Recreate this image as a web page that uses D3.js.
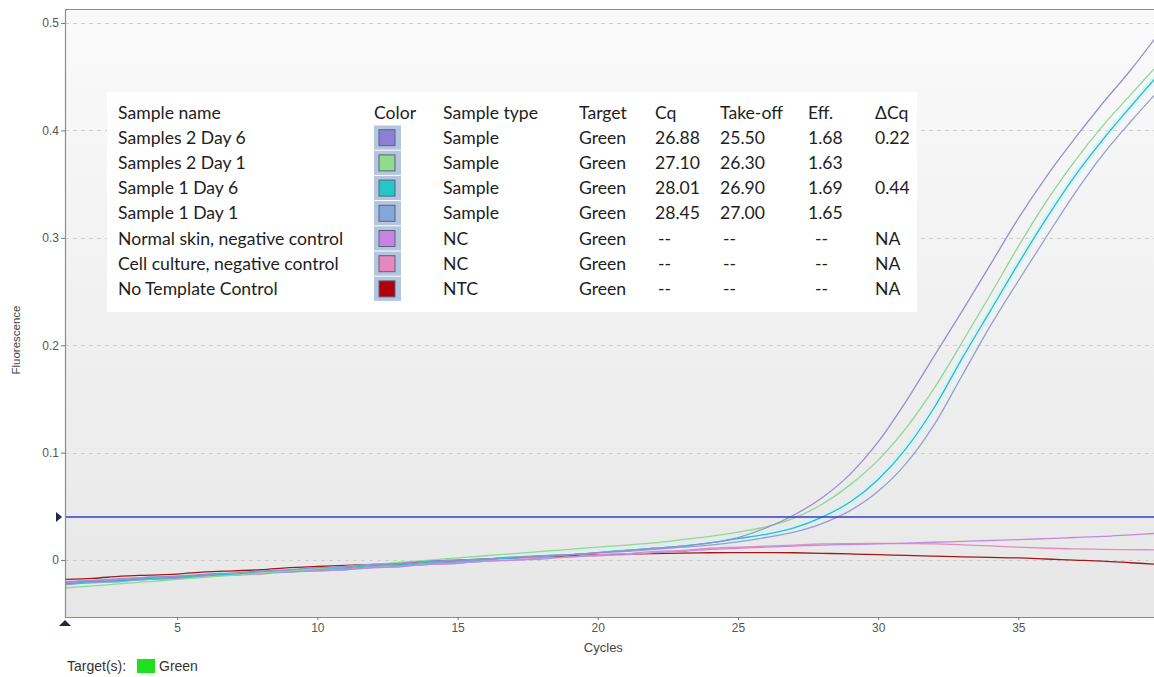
<!DOCTYPE html>
<html>
<head>
<meta charset="utf-8">
<script src="https://cdn.jsdelivr.net/npm/d3@7"></script>
<style>
  html, body { margin: 0; padding: 0; background: #ffffff; }
  svg { display: block; }
</style>
</head>
<body>
<svg id="chart" width="1154" height="677"></svg>
<script>
// Amplification curves: fluorescence per cycle (cycles 1..40)
const cycles = d3.range(1, 41);

const s2d6 = [-0.021,-0.019,-0.018,-0.016,-0.015,-0.013,-0.012,-0.010,-0.009,-0.007,
              -0.006,-0.004,-0.003,-0.001, 0.000, 0.001, 0.003, 0.004, 0.005, 0.007,
               0.009, 0.011, 0.013, 0.016, 0.021, 0.030, 0.042, 0.058, 0.080, 0.110,
               0.148, 0.190, 0.232, 0.275, 0.318, 0.357, 0.392, 0.425, 0.456, 0.490];
const s2d1 = [-0.026,-0.024,-0.022,-0.020,-0.018,-0.016,-0.014,-0.012,-0.010,-0.008,
              -0.006,-0.004,-0.002, 0.000, 0.002, 0.004, 0.006, 0.008, 0.010, 0.012,
               0.014, 0.016, 0.019, 0.022, 0.026, 0.031, 0.039, 0.052, 0.070, 0.093,
               0.123, 0.160, 0.203, 0.247, 0.292, 0.334, 0.371, 0.404, 0.433, 0.462];
const s1d6 = [-0.022,-0.020,-0.019,-0.017,-0.016,-0.014,-0.013,-0.011,-0.010,-0.008,
              -0.007,-0.005,-0.004,-0.002,-0.001, 0.001, 0.002, 0.004, 0.005, 0.007,
               0.009, 0.011, 0.013, 0.016, 0.020, 0.024, 0.030, 0.040, 0.054, 0.075,
               0.104, 0.142, 0.188, 0.232, 0.276, 0.318, 0.357, 0.391, 0.422, 0.452];
const s1d1 = [-0.023,-0.021,-0.020,-0.018,-0.017,-0.015,-0.014,-0.012,-0.011,-0.009,
              -0.008,-0.006,-0.005,-0.003,-0.002, 0.000, 0.002, 0.003, 0.005, 0.0065,
               0.008, 0.010, 0.012, 0.014, 0.017, 0.021, 0.026, 0.034, 0.046, 0.064,
               0.090, 0.126, 0.172, 0.218, 0.260, 0.301, 0.341, 0.377, 0.408, 0.437];
const normalSkin = [-0.020,-0.019,-0.017,-0.016,-0.015,-0.014,-0.013,-0.012,-0.011,-0.010,
                    -0.009,-0.007,-0.006,-0.004,-0.003,-0.001, 0.000, 0.001, 0.003, 0.004,
                     0.005, 0.007, 0.008, 0.010, 0.011, 0.012, 0.013, 0.014, 0.0145, 0.015,
                     0.0158, 0.0166, 0.0174, 0.0182, 0.019, 0.020, 0.021, 0.022, 0.0235, 0.025];
const cellCulture = [-0.022,-0.021,-0.019,-0.018,-0.017,-0.015,-0.014,-0.013,-0.011,-0.010,
                     -0.009,-0.007,-0.006,-0.004,-0.003,-0.001, 0.000, 0.002, 0.003, 0.005,
                      0.006, 0.008, 0.009, 0.011, 0.012, 0.013, 0.014, 0.015, 0.0153, 0.0155,
                      0.0153, 0.015, 0.0142, 0.0132, 0.012, 0.011, 0.0104, 0.010, 0.0097, 0.0095];
const ntc = [-0.018,-0.017,-0.015,-0.014,-0.013,-0.011,-0.010,-0.009,-0.007,-0.006,
             -0.005,-0.004,-0.003,-0.001, 0.000, 0.001, 0.002, 0.003, 0.004, 0.005,
              0.0055, 0.006, 0.0065, 0.0068, 0.007, 0.007, 0.0068, 0.0063, 0.0057, 0.005,
              0.0043, 0.0036, 0.003, 0.0025, 0.002, 0.001, 0.000,-0.001,-0.0025,-0.004];

// Legend / results table
const sampleNames = ["Samples 2 Day 6", "Samples 2 Day 1", "Sample 1 Day 6", "Sample 1 Day 1",
                     "Normal skin, negative control", "Cell culture, negative control", "No Template Control"];
const sampleTypes = ["Sample", "Sample", "Sample", "Sample", "NC", "NC", "NTC"];
const targets = ["Green", "Green", "Green", "Green", "Green", "Green", "Green"];
const cqValues = ["26.88", "27.10", "28.01", "28.45", "--", "--", "--"];
const takeOffValues = ["25.50", "26.30", "26.90", "27.00", "--", "--", "--"];
const effValues = ["1.68", "1.63", "1.69", "1.65", "--", "--", "--"];
const deltaCq = ["0.22", "", "0.44", "", "NA", "NA", "NA"];
const swatchColors = ["#8b7fd8", "#8fdc8c", "#25c6c8", "#84a7da", "#c883e2", "#e887bf", "#b00010"];
const lineColors   = ["#998fd0", "#8cd994", "#2bbcc4", "#939fd6", "#c28ae0", "#e48cc0", "#a01818"];
const headers = ["Sample name", "Color", "Sample type", "Target", "Cq", "Take-off", "Eff.", "\u0394Cq"];

const seriesValues = [s2d6, s2d1, s1d6, s1d1, normalSkin, cellCulture, ntc];
const yTicks = [0, 0.1, 0.2, 0.3, 0.4, 0.5];
const xTicks = [5, 10, 15, 20, 25, 30, 35];
const threshold = 0.04;

const svg = d3.select("#chart");
const plot = { left: 65, top: 9, right: 1154, bottom: 617 };
const axisFont = "Liberation Sans, Arial, sans-serif";

const x = d3.scaleLinear().domain([1, 40]).range([plot.left, plot.left + 39 * 28.04]);
const y = d3.scaleLinear().domain([-0.053, 0.513]).range([plot.bottom, plot.top]);

const defs = svg.append("defs");
const grad = defs.append("linearGradient").attr("id", "bg").attr("x1", 0).attr("x2", 0).attr("y1", 0).attr("y2", 1);
grad.append("stop").attr("offset", "0%").attr("stop-color", "#fafafa");
grad.append("stop").attr("offset", "100%").attr("stop-color", "#e7e7e7");
defs.append("clipPath").attr("id", "clip").append("rect")
  .attr("x", plot.left).attr("y", plot.top)
  .attr("width", plot.right - plot.left).attr("height", plot.bottom - plot.top);

// plot background
svg.append("rect")
  .attr("x", plot.left).attr("y", plot.top)
  .attr("width", plot.right - plot.left).attr("height", plot.bottom - plot.top)
  .attr("fill", "url(#bg)");

// horizontal dashed grid
svg.append("g").selectAll("line").data(yTicks).join("line")
  .attr("x1", plot.left).attr("x2", plot.right)
  .attr("y1", d => Math.round(y(d)) + 0.5).attr("y2", d => Math.round(y(d)) + 0.5)
  .attr("stroke", "#cfcfcf").attr("stroke-width", 1).attr("stroke-dasharray", "4,4");

// curves
const line = d3.line()
  .x((d, i) => x(cycles[i]))
  .y(d => y(d))
  .curve(d3.curveMonotoneX);

const curves = svg.append("g").attr("clip-path", "url(#clip)");
// soft halo under the selected curve
curves.append("path").datum(s1d6)
  .attr("d", line).attr("fill", "none")
  .attr("stroke", "#d2f3f6").attr("stroke-width", 6).attr("opacity", 0.7);
curves.selectAll("path.curve").data(seriesValues.slice().reverse()).join("path")
  .attr("class", "curve")
  .attr("d", line)
  .attr("fill", "none")
  .attr("stroke", (d, i) => lineColors[seriesValues.length - 1 - i])
  .attr("stroke-width", 1.3);

// threshold line
svg.append("line")
  .attr("x1", plot.left).attr("x2", plot.right)
  .attr("y1", y(threshold)).attr("y2", y(threshold))
  .attr("stroke", "#3a3acb").attr("stroke-width", 1.5);
svg.append("path")
  .attr("d", `M56,${y(threshold) - 5} L62,${y(threshold)} L56,${y(threshold) + 5} Z`)
  .attr("fill", "#1d2850");

// plot border (left, top, bottom)
svg.append("path")
  .attr("d", `M${plot.right},${plot.top + 0.5} H${plot.left + 0.5} V${plot.bottom + 0.5} H${plot.right}`)
  .attr("fill", "none").attr("stroke", "#8c8c8c").attr("stroke-width", 1.2);

// y axis
const yAxis = d3.axisLeft(y).tickValues(yTicks).tickSize(4).tickPadding(2)
  .tickFormat(d => d === 0 ? "0" : d3.format(".1f")(d));
const yg = svg.append("g").attr("transform", `translate(${plot.left},0)`).call(yAxis);
yg.select(".domain").remove();
yg.selectAll(".tick line").attr("stroke", "#777");
yg.selectAll(".tick text").attr("fill", "#555").attr("font-family", axisFont).attr("font-size", 12);

// x axis
const xAxis = d3.axisBottom(x).tickValues(xTicks).tickSize(3).tickPadding(3);
const xg = svg.append("g").attr("transform", `translate(0,${plot.bottom})`).call(xAxis);
xg.select(".domain").remove();
xg.selectAll(".tick line").attr("stroke", "#777");
xg.selectAll(".tick text").attr("fill", "#555").attr("font-family", axisFont).attr("font-size", 12);

// origin marker
svg.append("path")
  .attr("d", `M${plot.left - 6},${plot.bottom + 9} L${plot.left},${plot.bottom + 3} L${plot.left + 6},${plot.bottom + 9} Z`)
  .attr("fill", "#1d2850");

// axis titles
svg.append("text").attr("x", x(20.2)).attr("y", 652).attr("text-anchor", "middle")
  .attr("font-family", axisFont).attr("font-size", 13).attr("fill", "#444")
  .text("Cycles");
svg.append("text").attr("transform", "translate(20,340) rotate(-90)").attr("text-anchor", "middle")
  .attr("font-family", axisFont).attr("font-size", 11.5).attr("fill", "#444")
  .text("Fluorescence");

// target legend
svg.append("text").attr("x", 67).attr("y", 671)
  .attr("font-family", axisFont).attr("font-size", 14).attr("fill", "#333")
  .text("Target(s):");
svg.append("rect").attr("x", 137).attr("y", 659).attr("width", 18).attr("height", 14).attr("fill", "#1fe01f");
svg.append("text").attr("x", 159).attr("y", 671)
  .attr("font-family", axisFont).attr("font-size", 14).attr("fill", "#333")
  .text("Green");

// results table
const table = svg.append("g").attr("font-family", "Lato, 'Open Sans', sans-serif").attr("font-size", 17.6).attr("fill", "#1e1e1e");
table.append("rect").attr("x", 107).attr("y", 92).attr("width", 810).attr("height", 220).attr("fill", "#ffffff");

const colX = [118, 374, 443, 579, 655, 720, 808, 875];
const headerBase = 118.5, rowStep = 25.2;
table.selectAll("text.hdr").data(headers).join("text").attr("class", "hdr")
  .attr("x", (d, i) => colX[i]).attr("y", headerBase).text(d => d);

// color column band
table.selectAll("rect.band").data(sampleNames).join("rect").attr("class", "band")
  .attr("x", 374).attr("y", (d, i) => headerBase + 7 + i * rowStep)
  .attr("width", 27).attr("height", rowStep - 1)
  .attr("fill", "#b3c5df");
table.selectAll("rect.sw").data(swatchColors).join("rect").attr("class", "sw")
  .attr("x", 379).attr("y", (d, i) => headerBase + rowStep * (i + 1) - 14)
  .attr("width", 16).attr("height", 16)
  .attr("fill", d => d).attr("stroke", "#5a6478").attr("stroke-width", 1);

const rows = table.selectAll("g.row").data(sampleNames).join("g").attr("class", "row")
  .attr("transform", (d, i) => `translate(0,${headerBase + rowStep * (i + 1)})`);
rows.append("text").attr("x", colX[0]).text(d => d);
rows.append("text").attr("x", colX[2]).text((d, i) => sampleTypes[i]);
rows.append("text").attr("x", colX[3]).text((d, i) => targets[i]);
rows.append("text").attr("x", (d, i) => cqValues[i] === "--" ? colX[4] + 3 : colX[4]).text((d, i) => cqValues[i]);
rows.append("text").attr("x", (d, i) => takeOffValues[i] === "--" ? colX[5] + 3 : colX[5]).text((d, i) => takeOffValues[i]);
rows.append("text").attr("x", (d, i) => effValues[i] === "--" ? colX[6] + 7 : colX[6]).text((d, i) => effValues[i]);
rows.append("text").attr("x", colX[7]).text((d, i) => deltaCq[i]);
</script>
</body>
</html>
